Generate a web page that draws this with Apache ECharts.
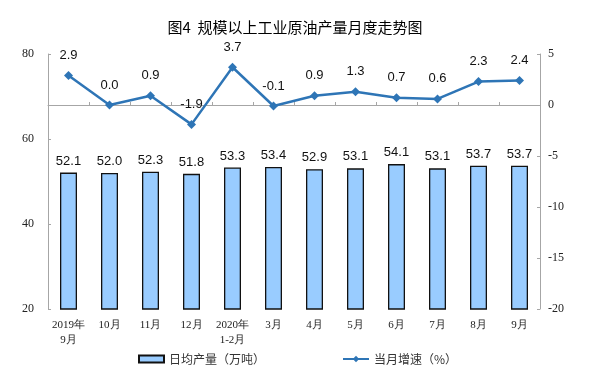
<!DOCTYPE html>
<html><head><meta charset="utf-8">
<script src="https://cdn.jsdelivr.net/npm/echarts@6/dist/echarts.min.js"></script>
<style>html,body{margin:0;padding:0;background:#fff}#c{width:590px;height:372px}</style>
</head><body><div id="c"></div>
<script>
var categories = ['2019年\n9月','10月','11月','12月','2020年\n1-2月','3月','4月','5月','6月','7月','8月','9月'];
var dailyOutput = [52.1, 52.0, 52.3, 51.8, 53.3, 53.4, 52.9, 53.1, 54.1, 53.1, 53.7, 53.7];
var monthlyGrowth = [2.9, 0.0, 0.9, -1.9, 3.7, -0.1, 0.9, 1.3, 0.7, 0.6, 2.3, 2.4];
var leftTicks = {min: 20, max: 80, interval: 20};
var rightTicks = {min: -20, max: 5, interval: 5};

var chart = echarts.init(document.getElementById('c'), null, {renderer: 'canvas'});
var serif = '"Liberation Serif", "Times New Roman", serif';
var sans = '"Liberation Sans", Arial, sans-serif';
var cjk = '"Noto Sans CJK SC", sans-serif';
var axisColor = '#A6A6A6';
chart.setOption({
  animation: false,
  backgroundColor: '#fff',
  title: {
    text: '图4  规模以上工业原油产量月度走势图',
    left: 'center', top: 15,
    textStyle: {fontFamily: cjk, fontSize: 15, fontWeight: 'normal', color: '#000'}
  },
  legend: [{
    data: [{name: '日均产量（万吨）', icon: 'rect'}],
    left: 133, top: 348, itemWidth: 25, itemHeight: 7, itemGap: 3,
    textStyle: {fontFamily: cjk, fontSize: 12, color: '#333'}
  }, {
    data: [{name: '当月增速（%）'}],
    left: 337, top: 348, itemWidth: 26, itemHeight: 8, itemGap: 3,
    textStyle: {fontFamily: cjk, fontSize: 12, color: '#333'}
  }],
  grid: {left: 48, right: 50, top: 54, bottom: 63, containLabel: false},
  xAxis: {
    type: 'category', data: categories,
    axisLine: {lineStyle: {color: axisColor}},
    axisTick: {show: true, inside: true, length: 3, alignWithLabel: false, lineStyle: {color: axisColor}},
    axisLabel: {fontFamily: serif, fontSize: 11, color: '#222', margin: 9, lineHeight: 15, interval: 0}
  },
  yAxis: [{
    type: 'value', min: leftTicks.min, max: leftTicks.max, interval: leftTicks.interval,
    axisLine: {show: true, lineStyle: {color: axisColor}},
    axisTick: {show: true, inside: true, length: 3, lineStyle: {color: axisColor}},
    splitLine: {show: false},
    axisLabel: {fontFamily: serif, fontSize: 12, color: '#222', margin: 14}
  }, {
    type: 'value', min: rightTicks.min, max: rightTicks.max, interval: rightTicks.interval,
    axisLine: {show: true, lineStyle: {color: axisColor}},
    axisTick: {show: true, inside: true, length: 3, lineStyle: {color: axisColor}},
    splitLine: {show: false},
    axisLabel: {fontFamily: serif, fontSize: 12, color: '#222', margin: 8}
  }],
  series: [{
    name: '日均产量（万吨）', type: 'bar', yAxisIndex: 0,
    data: dailyOutput, barWidth: 17,
    itemStyle: {color: '#99CCFF', borderColor: '#111', borderWidth: 1.3},
    label: {show: true, position: 'top', distance: 5, fontFamily: sans, fontSize: 13, color: '#111',
      formatter: function (p) { return p.value.toFixed(1); }}
  }, {
    name: '当月增速（%）', type: 'line', yAxisIndex: 1,
    data: monthlyGrowth,
    symbol: 'diamond', symbolSize: 9,
    lineStyle: {color: '#2E75B6', width: 2.5},
    itemStyle: {color: '#2E75B6'},
    label: {show: true, position: 'top', distance: 9, fontFamily: sans, fontSize: 13, color: '#111',
      formatter: function (p) { return p.value.toFixed(1); }}
  }]
});
</script></body></html>
